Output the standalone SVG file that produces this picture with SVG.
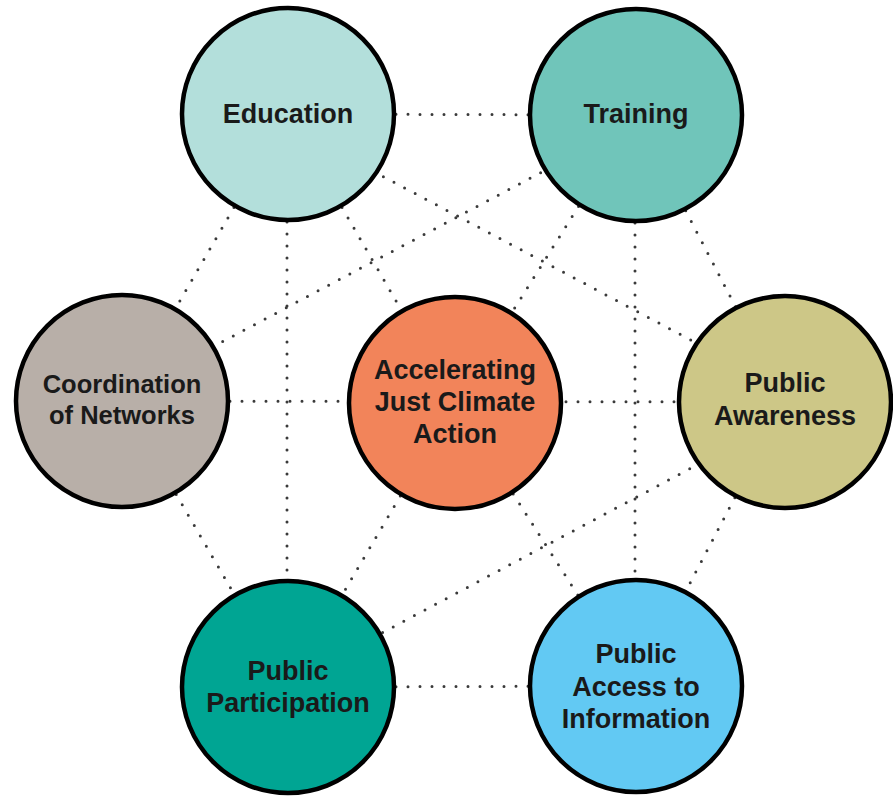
<svg xmlns="http://www.w3.org/2000/svg" width="893" height="797" viewBox="0 0 893 797">
<style>
.bg{fill:#ffffff}
.link{stroke:#3a3a3a;stroke-width:3;stroke-dasharray:0 12;stroke-linecap:round;fill:none}
.node{stroke:#000000;stroke-width:4.5}
.lbl{font-family:"Liberation Sans",Arial,Helvetica,sans-serif;font-weight:bold;font-size:27px;fill:#1a1a1a;text-anchor:middle}
</style>
<rect class="bg" x="0" y="0" width="893" height="797"/>
<g id="connectors">
<line class="link" x1="288" y1="114" x2="636" y2="115"/>
<line class="link" x1="288" y1="687" x2="636" y2="686"/>
<line class="link" x1="122" y1="401" x2="785" y2="402"/>
<line class="link" x1="287" y1="114" x2="287" y2="687"/>
<line class="link" x1="635" y1="115" x2="635" y2="686"/>
<line class="link" x1="288" y1="114" x2="122" y2="401"/>
<line class="link" x1="636" y1="115" x2="785" y2="402"/>
<line class="link" x1="122" y1="401" x2="288" y2="687"/>
<line class="link" x1="785" y1="402" x2="636" y2="686"/>
<line class="link" x1="288" y1="114" x2="455" y2="403"/>
<line class="link" x1="636" y1="115" x2="455" y2="403"/>
<line class="link" x1="455" y1="403" x2="288" y2="687"/>
<line class="link" x1="455" y1="403" x2="636" y2="686"/>
<line class="link" x1="288" y1="126" x2="785" y2="390"/>
<line class="link" x1="636" y1="122" x2="122" y2="395"/>
<line class="link" x1="785" y1="418" x2="288" y2="683"/>
</g>
<g id="node-education">
<circle class="node" cx="288" cy="114" r="106" fill="#b3dfdb"/>
<text class="lbl" x="288" y="123">Education</text>
</g>
<g id="node-training">
<circle class="node" cx="636" cy="115" r="106" fill="#70c5ba"/>
<text class="lbl" x="636" y="123">Training</text>
</g>
<g id="node-coordination">
<circle class="node" cx="122" cy="401" r="106" fill="#b8afa8"/>
<text class="lbl" x="122" y="393" style="font-size:25.5px">Coordination</text>
<text class="lbl" x="122" y="424" style="font-size:25.5px">of Networks</text>
</g>
<g id="node-center">
<circle class="node" cx="455" cy="403" r="106" fill="#f2845a"/>
<text class="lbl" x="455" y="379">Accelerating</text>
<text class="lbl" x="455" y="411">Just Climate</text>
<text class="lbl" x="455" y="443">Action</text>
</g>
<g id="node-awareness">
<circle class="node" cx="785" cy="402" r="106" fill="#cdc787"/>
<text class="lbl" x="785" y="392">Public</text>
<text class="lbl" x="785" y="425">Awareness</text>
</g>
<g id="node-participation">
<circle class="node" cx="288" cy="687" r="106" fill="#00a593"/>
<text class="lbl" x="288" y="680">Public</text>
<text class="lbl" x="288" y="712">Participation</text>
</g>
<g id="node-access">
<circle class="node" cx="636" cy="686" r="106" fill="#62c9f3"/>
<text class="lbl" x="636" y="663">Public</text>
<text class="lbl" x="636" y="696">Access to</text>
<text class="lbl" x="636" y="728">Information</text>
</g>
</svg>
